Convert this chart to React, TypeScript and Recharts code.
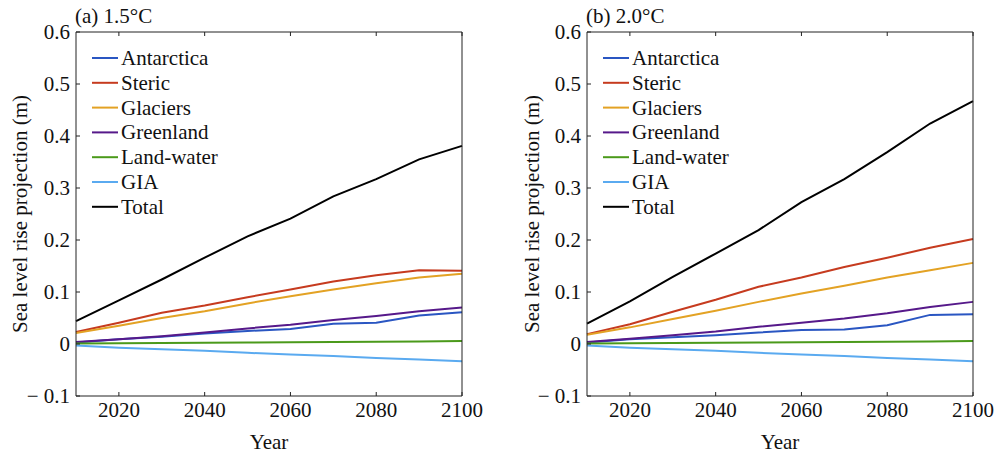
import { LineChart, Line, XAxis, YAxis, Legend } from 'recharts';

const years = [2010, 2020, 2030, 2040, 2050, 2060, 2070, 2080, 2090, 2100];

// (a) 1.5°C
const antarctica15 = [0.003, 0.009, 0.014, 0.02, 0.025, 0.029, 0.039, 0.041, 0.055, 0.061];
const steric15 = [0.023, 0.041, 0.06, 0.074, 0.09, 0.105, 0.12, 0.132, 0.142, 0.141];
const glaciers15 = [0.021, 0.035, 0.05, 0.063, 0.078, 0.092, 0.105, 0.117, 0.128, 0.135];
const greenland15 = [0.004, 0.009, 0.015, 0.022, 0.03, 0.037, 0.046, 0.054, 0.063, 0.07];
const landWater15 = [0.001, 0.0015, 0.002, 0.0025, 0.003, 0.0035, 0.004, 0.0045, 0.005, 0.006];
const gia15 = [-0.003, -0.007, -0.01, -0.013, -0.017, -0.02, -0.023, -0.027, -0.03, -0.033];
const total15 = [0.044, 0.084, 0.124, 0.166, 0.207, 0.241, 0.284, 0.317, 0.355, 0.381];

// (b) 2.0°C
const antarctica20 = [0.003, 0.009, 0.013, 0.017, 0.022, 0.027, 0.028, 0.036, 0.056, 0.057];
const steric20 = [0.019, 0.038, 0.062, 0.085, 0.11, 0.128, 0.148, 0.166, 0.185, 0.202];
const glaciers20 = [0.018, 0.032, 0.048, 0.064, 0.081, 0.097, 0.112, 0.128, 0.142, 0.156];
const greenland20 = [0.004, 0.01, 0.017, 0.024, 0.033, 0.041, 0.049, 0.059, 0.071, 0.081];
const landWater20 = [0.001, 0.0015, 0.002, 0.0025, 0.003, 0.0035, 0.004, 0.0045, 0.005, 0.006];
const gia20 = [-0.003, -0.007, -0.01, -0.013, -0.017, -0.02, -0.023, -0.027, -0.03, -0.033];
const total20 = [0.039, 0.082, 0.129, 0.174, 0.219, 0.273, 0.317, 0.369, 0.424, 0.467];

const xTicks = [2020, 2040, 2060, 2080, 2100];
const yTicks = [-0.1, 0, 0.1, 0.2, 0.3, 0.4, 0.5, 0.6];

const series = [
  { key: 'antarctica', name: 'Antarctica', color: '#2a56c2' },
  { key: 'steric', name: 'Steric', color: '#c63b1f' },
  { key: 'glaciers', name: 'Glaciers', color: '#e3a224' },
  { key: 'greenland', name: 'Greenland', color: '#56198a' },
  { key: 'landWater', name: 'Land-water', color: '#4b9a1b' },
  { key: 'gia', name: 'GIA', color: '#5aaaf0' },
  { key: 'total', name: 'Total', color: '#000000' },
];

const FONT = '"Liberation Serif", "Times New Roman", serif';
const txt = { fontFamily: FONT, fontSize: 21, fill: '#111' };

const buildRows = (
  ant: number[], ste: number[], gla: number[], gre: number[],
  lw: number[], gia: number[], tot: number[]
) =>
  years.map((year, i) => ({
    year,
    antarctica: ant[i],
    steric: ste[i],
    glaciers: gla[i],
    greenland: gre[i],
    landWater: lw[i],
    gia: gia[i],
    total: tot[i],
  }));

const rows15 = buildRows(antarctica15, steric15, glaciers15, greenland15, landWater15, gia15, total15);
const rows20 = buildRows(antarctica20, steric20, glaciers20, greenland20, landWater20, gia20, total20);

const fmtY = (v: number) => (v < 0 ? '\u2212 0.1' : v === 0 ? '0' : v.toFixed(1));

const XTick = (props: any) => (
  <text x={props.x} y={props.y} dy={15} textAnchor="middle" style={txt}>
    {props.payload.value}
  </text>
);

const YTick = (props: any) => (
  <text x={props.x} y={props.y} dy={7} textAnchor="end" style={txt}>
    {fmtY(props.payload.value)}
  </text>
);

// legend order follows the series list, not alphabetical
const renderLegend = () => (
  <svg width={220} height={180} style={{ display: 'block' }}>
    {series.map((s, i) => {
      const y = 12 + i * 24.8;
      return (
        <g key={s.key}>
          <line x1={0} x2={26} y1={y} y2={y} stroke={s.color} strokeWidth={2} />
          <text x={29} y={y} dy={7} style={txt}>
            {s.name}
          </text>
        </g>
      );
    })}
  </svg>
);

interface PanelProps {
  title: string;
  data: any[];
  left: number;
  width: number;
  yAxisWidth: number;
  rightMargin: number;
  titleX: number;
  yLabelX: number;
  legendX: number;
}

function Panel({ title, data, left, width, yAxisWidth, rightMargin, titleX, yLabelX, legendX }: PanelProps) {
  return (
    <div style={{ position: 'absolute', left, top: 0, width, height: 453 }}>
      <div
        style={{
          position: 'absolute', left: titleX, top: 5, fontFamily: FONT, fontSize: 21,
          lineHeight: '22px', color: '#111', whiteSpace: 'nowrap',
        }}
      >
        {title}
      </div>
      <LineChart width={width} height={453} data={data} margin={{ top: 31, right: rightMargin, bottom: 7, left: 0 }}>
        <XAxis
          xAxisId="b"
          dataKey="year"
          type="number"
          domain={[2010, 2100]}
          ticks={xTicks}
          height={50}
          stroke="#222"
          tickSize={-4}
          tickMargin={10}
          tick={<XTick />}
          label={{
            content: (lp: any) => {
              const vb = lp.viewBox;
              return (
                <text x={vb.x + vb.width / 2} y={442} dy={7} textAnchor="middle" style={txt}>Year</text>
              );
            },
          }}
        />
        <XAxis
          xAxisId="t"
          dataKey="year"
          type="number"
          orientation="top"
          domain={[2010, 2100]}
          ticks={xTicks}
          height={1}
          stroke="#222"
          tickSize={-4}
          tickFormatter={() => ''}
        />
        <YAxis
          yAxisId="l"
          domain={[-0.1, 0.6]}
          ticks={yTicks}
          width={yAxisWidth}
          stroke="#222"
          tickSize={-4}
          tickMargin={10}
          tick={<YTick />}
          label={{
            content: () => (
              <text x={yLabelX} y={214} dy={7} textAnchor="middle"
                transform={`rotate(-90, ${yLabelX}, 214)`} style={txt}>
                Sea level rise projection (m)
              </text>
            ),
          }}
        />
        <YAxis
          yAxisId="r"
          orientation="right"
          domain={[-0.1, 0.6]}
          ticks={yTicks}
          width={1}
          stroke="#222"
          tickSize={-4}
          tickFormatter={() => ''}
        />
        <Legend
          layout="vertical"
          align="center"
          verticalAlign="middle"
          content={renderLegend}
          wrapperStyle={{ left: legendX, top: 45.5, width: 220, height: 180 }}
        />
        {series.map((s) => (
          <Line
            key={s.key}
            xAxisId="b"
            yAxisId="l"
            type="linear"
            dataKey={s.key}
            name={s.name}
            stroke={s.color}
            strokeWidth={2}
            dot={false}
            isAnimationActive={false}
          />
        ))}
      </LineChart>
    </div>
  );
}

export default function App() {
  return (
    <div style={{ position: 'absolute', left: 0, top: 0, width: 997, height: 453, background: '#fff' }}>
      <Panel title="(a) 1.5°C" data={rows15} left={0} width={500} yAxisWidth={76} rightMargin={37}
        titleX={75} yLabelX={20} legendX={92} />
      <Panel title="(b) 2.0°C" data={rows20} left={500} width={497} yAxisWidth={87} rightMargin={23}
        titleX={86} yLabelX={32} legendX={103} />
    </div>
  );
}
